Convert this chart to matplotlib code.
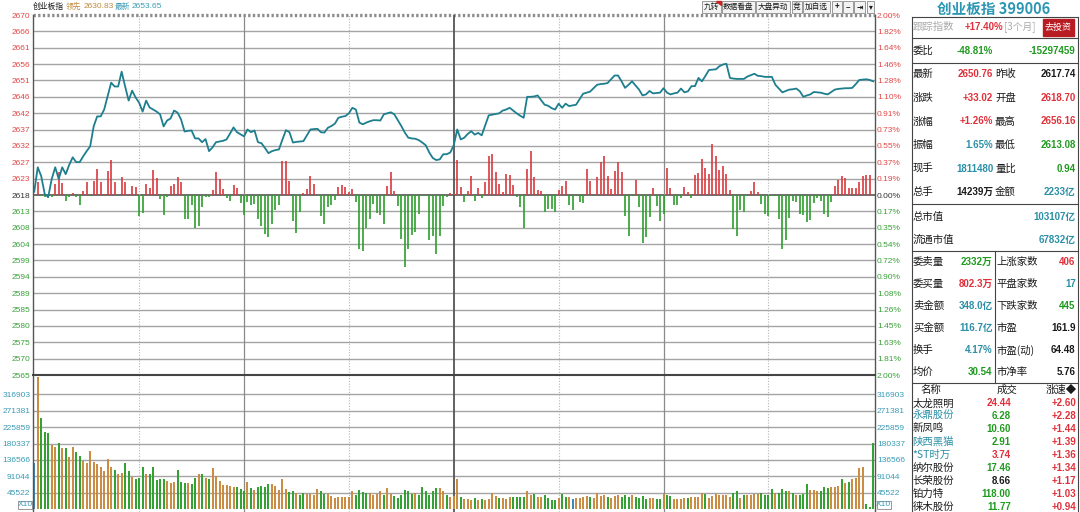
import numpy as np
import matplotlib.pyplot as plt
from matplotlib.patches import Rectangle, Polygon

CJK = ['Noto Sans CJK SC', 'DejaVu Sans']
NUM = ['Liberation Sans', 'Noto Sans CJK SC', 'DejaVu Sans']

RED = '#e0303a'
GREEN = '#1f9a1f'
TEAL = '#2b8fa6'
BLACK = '#1a1a1a'

pre_close = 2617.74

# minute price of the index, 9:30 .. 11:30 | 13:00 .. 15:00
price = [
    2618.7, 2625.8, 2623.2, 2618.0, 2617.2, 2622.4, 2625.8, 2622.4, 2625.8, 2623.8,
    2626.5, 2628.7, 2627.3, 2627.3, 2629.0, 2630.5, 2631.9, 2637.7, 2640.6, 2640.6,
    2642.6, 2646.5, 2650.4, 2649.3, 2649.3, 2653.6, 2649.3, 2645.2, 2648.1, 2646.1,
    2644.6, 2642.0, 2645.2, 2643.2, 2642.6, 2642.0, 2641.2, 2637.7, 2639.4, 2640.0,
    2642.3, 2641.7, 2639.7, 2636.2, 2636.4, 2636.5, 2634.2, 2634.2, 2633.1, 2634.0,
    2630.5, 2631.6, 2633.1, 2633.3, 2633.5, 2633.9, 2635.6, 2637.4, 2636.0, 2635.4,
    2634.8, 2636.8, 2636.0, 2636.5, 2633.1, 2632.8, 2631.4, 2629.9, 2630.5, 2630.8,
    2631.0, 2633.9, 2636.6, 2636.0, 2633.0, 2633.2, 2633.3, 2633.4, 2635.1, 2636.8,
    2636.9, 2637.0, 2636.0, 2635.9, 2637.3, 2637.8, 2638.5, 2640.2, 2640.5, 2640.7,
    2641.5, 2643.1, 2642.6, 2638.8, 2638.3, 2638.8, 2639.2, 2639.5, 2639.5, 2639.4,
    2641.2, 2641.5, 2641.8, 2641.2, 2639.5, 2637.8, 2635.9, 2634.4, 2634.2, 2634.1,
    2633.7, 2633.0, 2632.2, 2630.1, 2628.5, 2627.9, 2628.1, 2629.6, 2629.6, 2630.1,
    2632.2, 2636.8, 2633.9, 2634.4, 2635.5, 2636.3, 2635.3, 2635.8, 2635.1, 2638.0,
    2640.9, 2641.1, 2641.3, 2641.5, 2642.3, 2642.6, 2643.1, 2642.3, 2641.5, 2640.8,
    2640.2, 2646.3, 2646.3, 2646.4, 2646.7, 2645.3, 2644.0, 2643.7, 2643.0, 2642.6,
    2644.3, 2643.1, 2644.3, 2643.6, 2643.8, 2644.0, 2645.6, 2647.2, 2647.5, 2647.8,
    2648.8, 2649.8, 2650.0, 2650.1, 2650.3, 2651.4, 2652.5, 2652.5, 2650.8, 2648.9,
    2649.8, 2650.8, 2649.6, 2648.4, 2646.7, 2647.0, 2648.0, 2647.3, 2647.4, 2647.5,
    2648.8, 2647.5, 2647.0, 2647.3, 2647.5, 2648.7, 2647.6, 2647.9, 2649.4, 2649.4,
    2651.8, 2650.8, 2652.4, 2654.1, 2654.2, 2654.3, 2655.2, 2655.7, 2655.9, 2651.8,
    2651.6, 2651.5, 2651.5, 2651.5, 2652.2, 2652.6, 2653.0, 2652.4, 2652.3, 2652.1,
    2652.1, 2652.1, 2649.8, 2648.7, 2647.6, 2648.0, 2648.4, 2648.5, 2648.7, 2647.9,
    2646.3, 2646.7, 2647.0, 2647.7, 2647.6, 2647.5, 2647.2, 2647.0, 2647.7, 2648.4,
    2648.6, 2648.7, 2648.8, 2648.8, 2648.9, 2650.0, 2651.2, 2651.3, 2651.4, 2651.2,
    2650.8,
]

# buy/sell strength bars around the previous close (index points)
flow = [
    0, 3.7, -0.3, -0.6, -0.9, -0.6, 3.2, 6.6, 3.5, -1.6,
    -0.7, 0.6, -0.7, -2.8, 1.1, 3.8, -0.2, 4.0, 7.7, 3.8,
    0.2, 7.0, 10.1, 3.8, -0.4, 5.1, 3.7, 0.3, 2.7, 2.2,
    -6.0, -5.2, 3.2, 2.0, 7.2, 4.8, -1.2, -5.7, -0.7, 2.7,
    3.2, 5.3, 3.8, -6.9, -7.1, -2.9, -9.6, -8.9, -3.6, -0.7,
    -0.7, 1.4, 6.7, 4.6, 1.7, -1.0, -1.6, 2.9, 2.0, -2.3,
    -5.8, -1.9, -2.9, -2.6, -6.9, -9.0, -11.3, -12.2, -8.4, -4.5,
    -2.9, 9.9, 9.9, 4.1, -7.7, -11.0, -4.8, 0.6, 1.7, 5.6,
    3.2, -0.4, -6.2, -8.4, -3.6, -2.9, -1.4, 2.2, 3.0, 2.2,
    0.8, 1.7, -1.9, -15.8, -16.4, -9.6, -7.1, -2.6, -5.2, -5.8,
    -8.4, 2.7, 6.7, 1.1, -3.3, -12.7, -20.9, -15.6, -11.6, -10.8,
    -5.5, -0.4, -0.4, -13.2, -12.0, -17.1, -11.9, -3.3, -0.7, 0.6,
    0.3, 10.2, 2.2, -1.9, 1.1, 5.6, -1.6, 2.0, -1.0, 3.8,
    11.4, 11.9, 6.7, 3.2, 0.8, 6.1, 5.8, 2.9, -0.7, -3.6,
    -9.6, 7.5, 12.8, 5.1, 1.4, 1.1, -4.8, -4.0, -4.0, -4.8,
    1.5, 2.7, 4.0, -2.8, -4.5, -0.4, -2.1, -2.4, 7.5, 4.1,
    -0.4, 5.3, 9.6, 11.2, 5.6, 1.7, 7.0, 9.6, 6.8, -6.0,
    -11.8, -0.3, 4.3, -3.6, -13.9, -12.2, -6.4, 1.9, -3.1, -7.6,
    -5.5, 7.8, 1.9, -2.8, -2.8, -1.0, 2.2, 0.8, -1.0, 5.8,
    6.3, 10.4, 7.8, 6.1, 14.7, 11.2, 7.2, 8.5, 6.1, 1.5,
    -10.0, -11.8, -4.5, -4.8, -0.3, 1.1, 3.7, 1.0, -2.6, -5.5,
    -6.2, -0.3, -0.4, -6.9, -15.8, -13.2, -6.7, -1.6, -2.1, -5.5,
    -5.7, -7.9, -7.4, -2.3, -0.9, -1.6, -5.5, -6.3, -2.1, 2.7,
    4.4, 5.6, 4.8, 2.0, 2.0, 2.0, 3.8, 5.4, 5.9, 5.8,
    0,
]

# minute volume, thousands
volume_k = [
    128, 365, 250, 212, 209, 177, 172, 183, 168, 168,
    143, 170, 157, 147, 134, 126, 160, 131, 124, 115,
    104, 137, 115, 108, 96, 99, 128, 104, 90, 83,
    85, 117, 97, 96, 116, 81, 83, 83, 79, 71,
    76, 108, 76, 73, 71, 70, 87, 96, 96, 85,
    83, 113, 92, 78, 67, 67, 65, 62, 60, 55,
    49, 76, 58, 53, 60, 64, 62, 69, 70, 64,
    53, 82, 56, 48, 50, 46, 39, 46, 42, 42,
    39, 55, 50, 42, 42, 37, 32, 35, 35, 35,
    35, 50, 38, 53, 47, 46, 44, 39, 41, 49,
    39, 58, 41, 37, 31, 38, 53, 49, 42, 44,
    39, 60, 50, 39, 49, 58, 58, 49, 39, 33,
    37, 82, 35, 27, 27, 26, 30, 26, 27, 26,
    27, 44, 37, 32, 30, 28, 33, 35, 33, 33,
    33, 50, 39, 41, 33, 33, 39, 30, 26, 26,
    30, 42, 35, 35, 28, 30, 32, 33, 37, 35,
    30, 46, 37, 39, 33, 30, 37, 39, 33, 38,
    35, 39, 33, 30, 37, 28, 30, 30, 28, 28,
    41, 39, 37, 28, 28, 28, 30, 30, 33, 35,
    35, 46, 41, 32, 37, 41, 38, 38, 38, 35,
    46, 50, 32, 39, 38, 38, 42, 42, 46, 38,
    38, 55, 46, 46, 56, 49, 50, 46, 39, 39,
    42, 69, 53, 53, 51, 50, 60, 58, 60, 62,
    64, 82, 71, 76, 82, 85, 113, 115, 14, 7,
    181,
]

# o = up minute, g = down minute, t = flat
volume_dir = ''.join([
    't',
    'ogggoogogo', 'oggooooooo', 'oogooggogg', 'gogggggooo', 'gggoggogog',
    'oooooooggg', 'ogoggggooo', 'ooggoggooo', 'oggooooooo', 'oggggoooog',
    'ooggggggog', 'gggggoogoo', 'ogooogogoo', 'oogooogggg', 'oogooggggo',
    'ggotoooogo', 'ooogoooggg', 'oggggooggo', 'ggoooogooo', 'ogooooooog',
    'gogooooggg', 'gogggogogg', 'gooogggooo', 'gogooooggg',
])

price_labels = ['2670', '2666', '2661', '2656', '2651', '2646', '2642', '2637',
                '2632', '2627', '2623', '2618', '2613', '2608', '2604', '2599',
                '2594', '2589', '2585', '2580', '2575', '2570', '2565']
pct_labels = ['2.00%', '1.82%', '1.64%', '1.46%', '1.28%', '1.10%', '0.91%', '0.73%',
              '0.55%', '0.37%', '0.19%', '0.00%', '0.17%', '0.35%', '0.54%', '0.72%',
              '0.90%', '1.08%', '1.26%', '1.45%', '1.63%', '1.81%', '2.00%']
vol_levels = [316903, 271381, 225859, 180337, 136566, 91044, 45522]

quote_rows = [
    ('最新', '2650.76', RED, '昨收', '2617.74', BLACK),
    ('涨跌', '+33.02', RED, '开盘', '2618.70', RED),
    ('涨幅', '+1.26%', RED, '最高', '2656.16', RED),
    ('振幅', '1.65%', TEAL, '最低', '2613.08', GREEN),
    ('现手', '1811480', TEAL, '量比', '0.94', GREEN),
    ('总手', '14239万', BLACK, '金额', '2233亿', TEAL),
]
cap_rows = [('总市值', '103107亿'), ('流通市值', '67832亿')]
book_rows = [
    ('委卖量', '2332万', GREEN, '上涨家数', '406', RED),
    ('委买量', '802.3万', RED, '平盘家数', '17', TEAL),
    ('卖金额', '348.0亿', TEAL, '下跌家数', '445', GREEN),
    ('买金额', '116.7亿', TEAL, '市盈', '161.9', BLACK),
    ('换手', '4.17%', TEAL, '市盈(动)', '64.48', BLACK),
    ('均价', '30.54', GREEN, '市净率', '5.76', BLACK),
]
stock_names = ['太龙照明', '永鼎股份', '新凤鸣', '陕西黑猫', '*ST时万',
               '纳尔股份', '长荣股份', '铂力特', '徕木股份']
name_colors = [BLACK, TEAL, BLACK, TEAL, TEAL, BLACK, BLACK, BLACK, BLACK]
stock_prices = ['24.44', '6.28', '10.60', '2.91', '3.74', '17.46', '8.66', '118.00', '11.77']
price_colors = [RED, GREEN, GREEN, GREEN, RED, GREEN, BLACK, GREEN, GREEN]
stock_speed = ['+2.60', '+2.28', '+1.44', '+1.39', '+1.36', '+1.34', '+1.17', '+1.03', '+0.94']

W, H = 1080, 512


def rect(x0, y0, x1, y1):
    return [x0 / W, 1 - y1 / H, (x1 - x0) / W, (y1 - y0) / H]


def time_lines(a):
    for k in [30, 90, 150, 210]:
        a.axvline(k, color='#b5b5b5', lw=0.8, ls=(0, (1, 1.5)))
    for k in [60, 180]:
        a.axvline(k, color='#8a8a8a', lw=0.9)
    a.axvline(120, color='#555555', lw=1.3)


def style_axis(a):
    a.set_xticks([])
    for s in a.spines.values():
        s.set_visible(False)
    a.tick_params(length=0, pad=1.5, labelsize=6)
    for lab in a.get_yticklabels():
        lab.set_family('Liberation Sans')


fig = plt.figure(figsize=(10.8, 5.12), dpi=100)
t = np.arange(len(price))

# ---- price panel
ax = fig.add_axes(rect(32.5, 15, 875, 375))
lo, hi = pre_close * 0.98, pre_close * 1.02
ax.set_xlim(-0.5, 240.5)
ax.set_ylim(lo, hi)
levels = [pre_close * (1 + 0.02 * j / 11) for j in range(11, -12, -1)]
for j, lv in enumerate(levels):
    if j == 0:
        ax.axhline(lv, color='#8c8c8c', lw=2.4, ls=(0, (0.7, 0.7)), clip_on=False)
    elif j == 11:
        ax.axhline(lv, color='#555555', lw=1.2)
    elif j < 22:
        ax.axhline(lv, color='#a4a4a4', lw=1.0)
time_lines(ax)

flow = np.array(flow)
up = flow > 0
dn = flow < 0
ax.vlines(t[up], pre_close, pre_close + flow[up], colors='#d83a3e', lw=1.2)
ax.vlines(t[dn], pre_close, pre_close + flow[dn], colors='#2e9e2e', lw=1.2)
ax.plot(t, price, color='#1d7f8e', lw=1.3, zorder=5)

ax.set_yticks(levels)
ax.set_yticklabels(price_labels)
style_axis(ax)
for j, lab in enumerate(ax.get_yticklabels()):
    lab.set_color('#e04848' if j < 11 else ('#333333' if j == 11 else '#3aa03a'))

axr = ax.twinx()
axr.set_ylim(lo, hi)
axr.set_yticks(levels)
axr.set_yticklabels(pct_labels)
style_axis(axr)
for j, lab in enumerate(axr.get_yticklabels()):
    lab.set_color('#e04848' if j < 11 else ('#333333' if j == 11 else '#3aa03a'))

# ---- volume panel
axv = fig.add_axes(rect(32.5, 375, 875, 512))
axv.set_xlim(-0.5, 240.5)
axv.set_ylim(-7400, 369300)
for lv in vol_levels:
    axv.axhline(lv, color='#a4a4a4', lw=1.0)
time_lines(axv)
vol = np.array(volume_k) * 1000
vcol = {'o': '#c98a3e', 'g': '#2f9f2f', 't': '#3a86b8'}
axv.vlines(t, 0, vol, colors=[vcol[c] for c in volume_dir], lw=1.4)
axv.set_yticks(vol_levels)
axv.set_yticklabels([str(v) for v in vol_levels])
style_axis(axv)
axvr = axv.twinx()
axvr.set_ylim(-7400, 369300)
axvr.set_yticks(vol_levels)
axvr.set_yticklabels([str(v) for v in vol_levels])
style_axis(axvr)
for a in (axv, axvr):
    for lab in a.get_yticklabels():
        lab.set_color('#3a9bb5')

# ---- overlay for frame lines and the side panel
ov = fig.add_axes([0, 0, 1, 1])
ov.set_xlim(0, W)
ov.set_ylim(H, 0)
ov.axis('off')
ov.patch.set_visible(False)

ov.plot([32.5, 32.5], [15, 512], color='#555555', lw=1)
ov.plot([875, 875], [15, 512], color='#555555', lw=1)
ov.plot([32.5, 875], [375, 375], color='#444444', lw=1.5)

for x0 in (18, 876.5):
    ov.add_patch(Rectangle((x0, 500.5), 14, 8, fill=False, ec='#999999', lw=0.7))
    ov.text(x0 + 7, 504.8, 'X10', fontsize=6, family=NUM, color='#3a9bb5', ha='center', va='center')

# header
ov.text(33, 7, '创业板指', fontsize=5.6, family=CJK, color=BLACK, va='center')
ov.text(66, 7, '领先', fontsize=5.6, family=CJK, color='#c08a3e', va='center')
ov.text(84, 7, '2630.83', fontsize=6, family=NUM, color='#c08a3e', va='center')
ov.text(115, 7, '最新', fontsize=5.6, family=CJK, color='#3a9bb5', va='center')
ov.text(132, 7, '2653.65', fontsize=6, family=NUM, color='#3a9bb5', va='center')

buttons = [('九转', 701.7, 720.7), ('数据看盘', 721.7, 755), ('大盘异动', 756, 790),
           ('竞', 791.7, 801.7), ('加自选', 803.3, 830), ('+', 831.7, 841.7),
           ('−', 842.7, 853.3), ('⇥', 854.3, 865), ('▾', 866.7, 874.3)]
for lab, x0, x1 in buttons:
    ov.add_patch(Rectangle((x0, 0.5), x1 - x0, 12.8, fc='#f3f3f3', ec='#9a9a9a', lw=0.7))
    ov.text((x0 + x1) / 2, 7, lab, fontsize=5.5, family=CJK, color=BLACK,
            ha='center', va='center', weight='bold' if lab in '+−⇥' else 'normal')
ov.add_patch(Polygon([(716, 0.5), (720.7, 0.5), (720.7, 5)], color='#d02020'))

# side panel
PX0, PX1 = 911.5, 1078
ov.text(994, 9, '创业板指 399006', fontsize=10.5, family=CJK, color='#2c97b5',
        weight='bold', ha='center', va='center')
for y in (17.3, 38.3, 63.3, 204, 250.7, 382.7):
    ov.plot([PX0, PX1], [y, y], color='#444444', lw=0.8)
ov.plot([PX0, PX0], [17.3, 512], color='#444444', lw=0.8)
ov.plot([PX1, PX1], [17.3, 512], color='#444444', lw=0.8)
ov.plot([995, 995], [250.7, 382.7], color='#444444', lw=0.8)

ov.text(913, 27, '跟踪指数', fontsize=7.5, family=CJK, color='#aaaaaa', va='center')
ov.text(1003, 27, '+17.40%', fontsize=7, family=NUM, color=RED, weight='bold', ha='right', va='center')
ov.text(1004, 27, '[3个月]', fontsize=7, family=CJK, color='#aaaaaa', va='center')
ov.add_patch(Rectangle((1042.7, 19.3), 31.3, 16.7, fc='#b81c22', ec='#b81c22'))
ov.text(1058.4, 27.6, '去投资', fontsize=6.5, family=CJK, color='white', ha='center', va='center')

ov.text(913, 50.7, '委比', fontsize=7.5, family=CJK, color=BLACK, va='center')
ov.text(993, 50.7, '-48.81%', fontsize=7, family=NUM, color=GREEN, weight='bold', ha='right', va='center')
ov.text(1075.7, 50.7, '-15297459', fontsize=7, family=NUM, color=GREEN, weight='bold', ha='right', va='center')

for i, (l1, v1, c1, l2, v2, c2) in enumerate(quote_rows):
    y = 74.3 + 23.6 * i
    ov.text(913, y, l1, fontsize=7.5, family=CJK, color=BLACK, va='center')
    ov.text(993.3, y, v1, fontsize=7, family=NUM, color=c1, weight='bold', ha='right', va='center')
    ov.text(995, y, l2, fontsize=7.5, family=CJK, color=BLACK, va='center')
    ov.text(1075.7, y, v2, fontsize=7, family=NUM, color=c2, weight='bold', ha='right', va='center')

for i, (lab, val) in enumerate(cap_rows):
    y = 216.7 + 23.3 * i
    ov.text(913, y, lab, fontsize=7.5, family=CJK, color=BLACK, va='center')
    ov.text(1075.7, y, val, fontsize=7, family=NUM, color=TEAL, weight='bold', ha='right', va='center')

for i, (l1, v1, c1, l2, v2, c2) in enumerate(book_rows):
    y = 261.7 + 22.1 * i
    ov.text(913, y, l1, fontsize=7.5, family=CJK, color=BLACK, va='center')
    ov.text(992.7, y, v1, fontsize=7, family=NUM, color=c1, weight='bold', ha='right', va='center')
    ov.text(996.5, y, l2, fontsize=7.5, family=CJK, color=BLACK, va='center')
    ov.text(1075.7, y, v2, fontsize=7, family=NUM, color=c2, weight='bold', ha='right', va='center')

ov.text(931, 390, '名称', fontsize=7.5, family=CJK, color=BLACK, ha='center', va='center')
ov.text(1006.7, 390, '成交', fontsize=7.5, family=CJK, color=BLACK, ha='center', va='center')
ov.text(1077, 390, '涨速◆', fontsize=7.5, family=CJK, color=BLACK, ha='right', va='center')
for i, name in enumerate(stock_names):
    y = 403.3 + 12.9 * i
    ov.text(912.5, y, name, fontsize=7.5, family=CJK, color=name_colors[i], va='center')
    ov.text(1011, y, stock_prices[i], fontsize=7, family=NUM, color=price_colors[i],
            weight='bold', ha='right', va='center')
    ov.text(1076, y, stock_speed[i], fontsize=7, family=NUM, color=RED,
            weight='bold', ha='right', va='center')

fig.savefig('out.png', dpi=100, facecolor='white')
